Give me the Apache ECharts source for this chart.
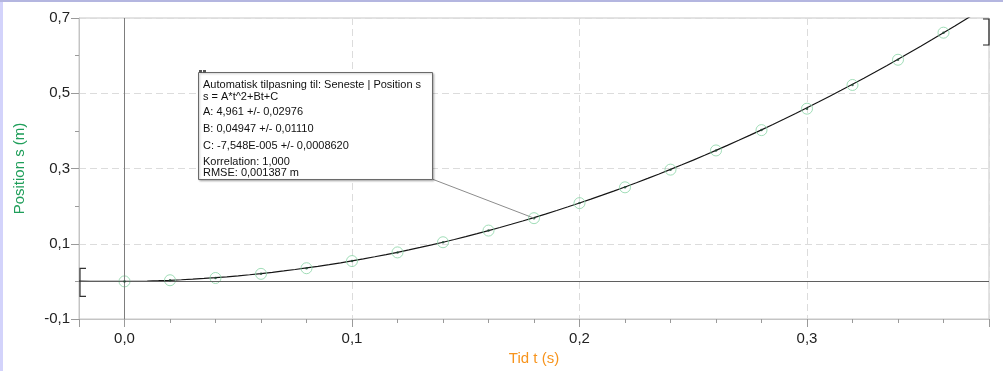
<!DOCTYPE html>
<html>
<head>
<meta charset="utf-8">
<script src="https://cdn.jsdelivr.net/npm/echarts@6/dist/echarts.min.js"></script>
<style>
  html, body { margin: 0; padding: 0; background: #fff; }
  body { width: 1003px; height: 371px; overflow: hidden; position: relative; }
  #chart { position: absolute; left: 0; top: 0; width: 1003px; height: 371px; }
  #edgeLeft { position: absolute; left: 0; top: 0; width: 3px; height: 371px; background: #d3d3fb; }
  #edgeTop { position: absolute; left: 0; top: 0; width: 1003px; height: 2px; background: #b4b6e0; }
</style>
</head>
<body>
<div id="chart"></div>
<div id="edgeLeft"></div>
<div id="edgeTop"></div>
<script>
// Measured samples: time (s) and position (m)
const timeValues = [0.00, 0.02, 0.04, 0.06, 0.08, 0.10, 0.12, 0.14, 0.16, 0.18,
                    0.20, 0.22, 0.24, 0.26, 0.28, 0.30, 0.32, 0.34, 0.36];
const positionValues = [0.000, 0.003, 0.009, 0.020, 0.035, 0.054, 0.077, 0.104, 0.135, 0.168,
                        0.208, 0.250, 0.297, 0.348, 0.402, 0.459, 0.522, 0.589, 0.661];

// Quadratic fit s = A*t^2 + B*t + C
const fitA = 4.961;
const fitB = 0.04947;
const fitC = -7.548e-5;
const fitRange = [-0.02, 0.38];

// Fit summary box text
const fitText = [
  'Automatisk tilpasning til: Seneste | Position s',
  's = A*t^2+Bt+C',
  'A: 4,961 +/- 0,02976',
  'B: 0,04947 +/- 0,01110',
  'C: -7,548E-005 +/- 0,0008620',
  'Korrelation: 1,000',
  'RMSE: 0,001387 m'
];
const fitTextY = [85, 96.5, 112, 129, 146, 161.5, 173];
const calloutIndex = 9; // sample the box points to

const axisFont = 'Liberation Sans, Arial, Helvetica, sans-serif';
const comma1 = v => v.toFixed(1).replace('.', ',');
const onTenth = v => Math.abs(v * 10 - Math.round(v * 10)) < 1e-6;

// Fit curve sampled from the stated coefficients
const fitCurve = [];
for (let i = 0; i <= 80; i++) {
  const t = fitRange[0] + (fitRange[1] - fitRange[0]) * i / 80;
  fitCurve.push([t, fitA * t * t + fitB * t + fitC]);
}
const samples = timeValues.map((t, i) => [t, positionValues[i]]);

const chart = echarts.init(document.getElementById('chart'), null, { renderer: 'canvas' });

chart.setOption({
  animation: false,
  textStyle: { fontFamily: axisFont },
  grid: {
    left: 79, right: 14, top: 18, bottom: 51,
    show: true, borderColor: '#c6c6c6', borderWidth: 1, backgroundColor: 'transparent'
  },
  xAxis: {
    type: 'value', min: fitRange[0], max: fitRange[1], splitNumber: 4,
    axisLine: { show: true, onZero: false, lineStyle: { color: '#c4c4c4' } },
    axisTick: { show: true, length: 8, lineStyle: { color: '#9a9a9a' } },
    minorTick: { show: true, splitNumber: 5, length: 4, lineStyle: { color: '#9a9a9a' } },
    axisLabel: {
      margin: 12, fontSize: 15, color: '#222', fontFamily: axisFont,
      formatter: v => (onTenth(v) ? comma1(v) : '')
    },
    splitLine: { show: true, lineStyle: { color: '#dcdcdc', type: [7, 4] } },
    name: 'Tid t (s)', nameLocation: 'middle', nameGap: 32,
    nameTextStyle: { color: '#f7941d', fontSize: 15, fontFamily: axisFont }
  },
  yAxis: {
    type: 'value', min: -0.1, max: 0.7, interval: 0.2,
    axisLine: { show: true, onZero: false, lineStyle: { color: '#c4c4c4' } },
    axisTick: { show: true, length: 8, lineStyle: { color: '#9a9a9a' } },
    minorTick: { show: true, splitNumber: 2, length: 4, lineStyle: { color: '#9a9a9a' } },
    axisLabel: {
      margin: 9, fontSize: 15, color: '#222', fontFamily: axisFont,
      formatter: v => comma1(v)
    },
    splitLine: { show: true, lineStyle: { color: '#dcdcdc', type: [7, 4] } },
    name: 'Position s (m)', nameLocation: 'middle', nameGap: 52,
    nameTextStyle: { color: '#1f9e5a', fontSize: 15, fontFamily: axisFont }
  },
  series: [
    {
      // zero lines
      type: 'line', data: [], z: 1, silent: true,
      markLine: {
        silent: true, symbol: 'none', label: { show: false }, animation: false,
        data: [
          { xAxis: 0, lineStyle: { color: '#7d7d7d', width: 1, type: 'solid' } },
          { yAxis: 0, lineStyle: { color: '#5f5f5f', width: 1, type: 'solid' } }
        ]
      }
    },
    {
      type: 'line', data: fitCurve, showSymbol: false, smooth: false, clip: true, z: 3,
      lineStyle: { color: '#161616', width: 1.2 }, silent: true
    },
    {
      type: 'scatter', data: samples, symbol: 'circle', symbolSize: 11, z: 4,
      itemStyle: { color: 'rgba(255,255,255,0)', borderColor: '#8ad4a6', borderWidth: 1 }
    },
    {
      type: 'scatter', data: samples, symbol: 'circle', symbolSize: 2.5, z: 5,
      itemStyle: { color: '#1d4a31' }
    }
  ]
});

// Fit box, callout and range brackets
const target = chart.convertToPixel({ gridIndex: 0 }, samples[calloutIndex]);
const zeroY = chart.convertToPixel({ yAxisIndex: 0 }, 0);
const leftX = chart.convertToPixel({ xAxisIndex: 0 }, fitRange[0]);
const rightX = chart.convertToPixel({ xAxisIndex: 0 }, fitRange[1]);
const topY = chart.convertToPixel({ yAxisIndex: 0 }, 0.7);

const box = { x: 198, y: 72, w: 234, h: 107 };
const graphics = [
  {
    type: 'line', z: 20,
    shape: { x1: box.x + box.w, y1: box.y + box.h, x2: target[0], y2: target[1] },
    style: { stroke: '#8c8c8c', lineWidth: 1 }
  },
  {
    type: 'rect', z: 21,
    shape: { x: box.x + 0.5, y: box.y + 0.5, width: box.w, height: box.h },
    style: { fill: '#fff', stroke: '#6a6a6a', lineWidth: 1,
             shadowBlur: 2, shadowOffsetX: 1, shadowOffsetY: 1, shadowColor: 'rgba(0,0,0,0.25)' }
  },
  { type: 'rect', z: 22, shape: { x: box.x + 1, y: box.y - 2, width: 3, height: 3 }, style: { fill: '#555' } },
  { type: 'rect', z: 22, shape: { x: box.x + 5, y: box.y - 2, width: 3, height: 3 }, style: { fill: '#555' } },
  {
    type: 'polyline', z: 20,
    shape: { points: [[leftX + 7, zeroY - 13], [leftX + 1, zeroY - 13], [leftX + 1, zeroY + 15], [leftX + 7, zeroY + 15]] },
    style: { stroke: '#333', lineWidth: 1.2, fill: null }
  },
  {
    type: 'polyline', z: 20,
    shape: { points: [[rightX - 6, topY + 1], [rightX, topY + 1], [rightX, topY + 27], [rightX - 6, topY + 27]] },
    style: { stroke: '#222', lineWidth: 1.2, fill: null }
  }
];
fitText.forEach((line, i) => {
  graphics.push({
    type: 'text', z: 23, x: box.x + 5, y: fitTextY[i],
    style: { text: line, fill: '#111', font: '11px ' + axisFont, verticalAlign: 'middle', align: 'left' }
  });
});
chart.setOption({ graphic: graphics });
</script>
</body>
</html>
